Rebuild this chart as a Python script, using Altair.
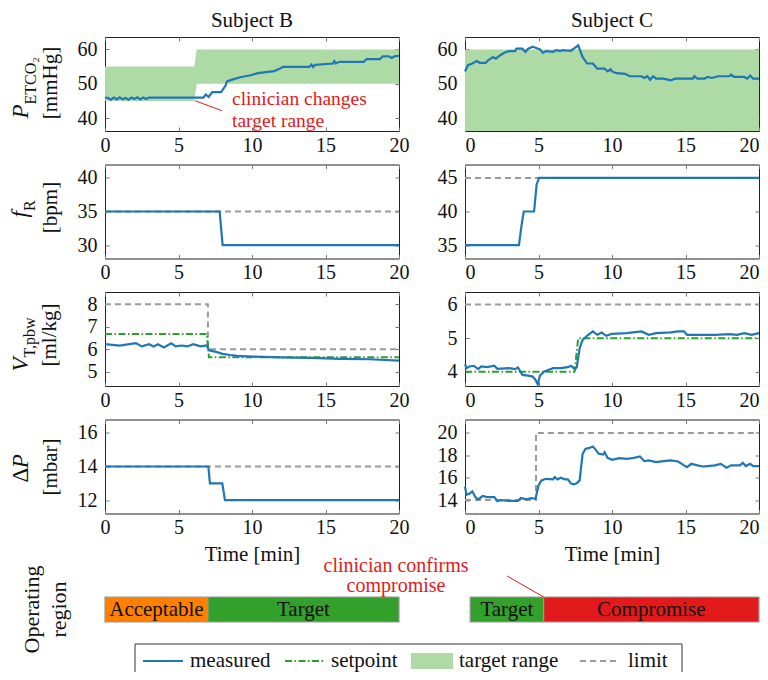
import altair as alt
import pandas as pd

FONT = "Liberation Serif"
TXT = "#111111"
BLUE = "#1f77b4"
GREEN = "#2ca02c"
FILL = "#aedaa6"
GRAY = "#9a9a9a"
RED = "#e31a1c"
TICK = "#777777"
ORANGE = "#ff7f00"
DGREEN = "#33a02c"
CRED = "#e31a1c"

# ---------------- data ----------------
ticks_x = [0, 5, 10, 15, 20]

# Subject B - PETCO2
b_p_t = [0, 0.2, 0.4, 0.6, 0.8, 1.0, 1.2, 1.4, 1.6, 1.8, 2.0, 2.2, 2.4, 2.6, 2.8, 3.0,
         6.7, 6.85, 7.05, 7.3, 7.9, 8.2, 8.3, 8.7, 9.2, 9.9, 10.4, 11.5, 11.8, 12.1, 13.9,
         14.05, 14.15, 14.3, 15.5, 15.6, 15.7, 15.8, 16.0, 17.6, 17.8, 18.7, 18.9, 19.3,
         19.5, 19.7, 20]
b_p_v = [45.9, 45.9, 45.4, 46.0, 45.5, 46.1, 45.5, 45.9, 45.4, 46.0, 45.6, 46.1, 45.5, 46.0, 45.6, 46.0,
         46.0, 46.9, 46.2, 47.6, 47.6, 49.5, 50.7, 51.3, 51.9, 52.5, 53.1, 53.7, 54.2, 54.9, 54.9,
         55.6, 54.9, 55.5, 55.9, 56.6, 55.9, 56.2, 56.4, 56.4, 57.2, 57.2, 58.0, 58.0,
         57.5, 58.0, 58.1]
b_tr_t = [0, 6.07, 6.24, 20]
b_tr_lo = [45, 45, 50, 50]
b_tr_hi = [55, 55, 60, 60]

# Subject C - PETCO2
c_p_t = [0, 0.2, 0.5, 0.8, 1.0, 1.4, 1.6, 1.9, 2.1, 2.4, 2.7, 3.0, 3.4, 3.5, 3.9, 4.1, 4.3, 4.6,
         4.8, 5.1, 5.3, 5.5, 6.0, 6.2, 6.5, 6.6, 7.2, 7.5, 7.7, 8.0, 8.3, 8.7, 9.0, 9.5, 9.7,
         9.9, 10.0, 10.3, 10.9, 11.2, 12.0, 12.2, 12.4, 12.6, 12.8, 13.0, 13.5, 14.0, 14.3,
         15.5, 15.6, 15.8, 16.3, 16.5, 16.8, 17.2, 18.0, 18.1, 18.3, 19.0, 19.2, 19.4, 19.6, 20]
c_p_v = [53.6, 55.4, 55.9, 56.6, 56.1, 56.1, 56.9, 57.8, 57.3, 58.3, 59.1, 59.5, 59.5, 60.2, 60.2,
         59.3, 60.2, 60.8, 60.5, 60.0, 59.0, 59.5, 59.3, 59.8, 59.5, 59.8, 59.6, 60.5, 61.2, 57.8,
         55.9, 55.9, 54.4, 54.4, 53.6, 54.2, 53.6, 53.1, 52.9, 52.2, 52.2, 51.7, 52.2, 51.2, 52.2,
         51.5, 51.5, 51.0, 51.5, 51.5, 52.2, 51.5, 51.5, 52.0, 51.7, 52.2, 52.2, 52.7, 52.0, 52.0,
         51.5, 52.4, 51.5, 51.5]
c_tr_t = [0, 20]
c_tr_lo = [30, 30]
c_tr_hi = [60, 60]

# respiratory rate
b_f_t = [0, 7.8, 8.0, 20]
b_f_v = [35, 35, 30, 30]
b_f_lim_t = [0, 20]
b_f_lim_v = [35, 35]
c_f_t = [0, 3.67, 3.85, 4.0, 4.7, 4.87, 5.03, 20]
c_f_v = [35, 35, 38, 40, 40, 44, 45, 45]
c_f_lim_t = [0, 20]
c_f_lim_v = [45, 45]

# tidal volume
b_v_t = [0, 1, 2.1, 2.5, 3, 3.3, 3.6, 4, 4.5, 4.8, 5.2, 5.6, 6, 6.5, 6.9, 7.1, 7.5, 8, 8.5, 9,
         10, 12, 14, 16, 18, 20]
b_v_v = [6.23, 6.17, 6.28, 6.13, 6.23, 6.13, 6.23, 6.08, 6.27, 6.13, 6.17, 6.13, 6.23, 6.13, 6.17,
         5.95, 5.9, 5.8, 5.75, 5.71, 5.68, 5.64, 5.62, 5.58, 5.56, 5.5]
b_v_lim_t = [0, 7.0, 7.0, 20]
b_v_lim_v = [8, 8, 6, 6]
b_v_sp_t = [0, 6.93, 7.07, 20]
b_v_sp_v = [6.68, 6.68, 5.65, 5.65]

c_v_t = [0, 0.1, 0.3, 0.6, 0.9, 1.1, 1.5, 2.0, 2.2, 3.0, 3.4, 3.6, 3.7, 3.9, 4.3, 4.6, 4.8, 4.95,
         5.1, 5.4, 5.7, 6.0, 6.5, 7.0, 7.2, 7.5, 7.6, 7.8, 8.0, 8.3, 8.7, 9.0, 9.3, 9.6, 10, 11,
         12, 12.5, 13, 14, 14.5, 14.9, 15.1, 16, 17, 18, 18.5, 19, 19.5, 20]
c_v_v = [4.23, 4.11, 4.16, 4.18, 4.08, 4.16, 4.14, 4.18, 4.09, 4.11, 4.08, 4.13, 4.06, 3.91, 3.89,
         3.86, 3.76, 3.63, 3.89, 4.01, 4.06, 4.11, 4.11, 4.14, 4.18, 4.08, 4.14, 4.7, 4.95, 5.07,
         5.2, 5.1, 5.17, 5.07, 5.13, 5.15, 5.2, 5.1, 5.15, 5.17, 5.2, 5.2, 5.1, 5.1, 5.1, 5.12,
         5.1, 5.15, 5.1, 5.15]
c_v_lim_t = [0, 20]
c_v_lim_v = [6, 6]
c_v_sp_t = [0, 7.45, 7.7, 20]
c_v_sp_v = [4.0, 4.0, 5.0, 5.0]

# driving pressure
b_d_t = [0, 7.03, 7.14, 7.98, 8.16, 20]
b_d_v = [14, 14, 13, 13, 12, 12]
b_d_lim_t = [0, 20]
b_d_lim_v = [14, 14]
c_d_t = [0, 0.1, 0.3, 0.5, 0.7, 0.9, 1.2, 1.5, 2.0, 2.2, 2.4, 3.0, 3.6, 3.8, 4.2, 4.5, 4.8, 5.0,
         5.2, 5.5, 6.0, 6.1, 6.3, 6.5, 6.8, 7.0, 7.2, 7.4, 7.6, 7.8, 8.0, 8.2, 8.5, 8.7, 8.9, 9.1,
         9.4, 9.5, 9.7, 10, 10.5, 11, 11.5, 11.9, 12.2, 12.5, 13, 13.5, 14, 14.5, 14.9, 15.1,
         15.4, 15.8, 16.2, 16.5, 17, 17.4, 17.8, 18.1, 18.7, 18.9, 19.1, 19.4, 19.6, 20]
c_d_v = [15.2, 14.48, 14.57, 14.78, 14.27, 14.06, 14.36, 14.27, 14.27, 13.9, 13.99, 13.93, 13.93,
         14.18, 14.06, 14.18, 14.12, 15.3, 15.76, 15.9, 15.85, 16.05, 15.85, 16.0, 15.85, 15.85,
         15.5, 15.4, 15.5, 15.76, 18.13, 18.58, 18.67, 18.78, 18.49, 18.13, 18.07, 18.28, 17.77,
         17.6, 17.75, 17.69, 17.77, 17.9, 17.48, 17.54, 17.39, 17.48, 17.54, 17.45, 17.1, 16.94,
         17.24, 17.1, 17.0, 17.04, 17.1, 17.24, 16.9, 17.1, 17.1, 17.33, 17.04, 17.24, 17.04, 17.03]
c_d_lim_t = [0, 4.83, 4.83, 20]
c_d_lim_v = [14, 14, 20, 20]

# operating regions
op_b_name = ["Acceptable", "Target"]
op_b_start = [0, 7.0]
op_b_end = [7.0, 20]
op_c_name = ["Target", "Compromise"]
op_c_start = [0.35, 5.35]
op_c_end = [5.35, 20]

legend_labels = ["measured", "setpoint", "target range", "limit"]

# ---------------- helpers ----------------
W, H = 294, 94
OPH = 75
XSC = alt.Scale(domain=[0, 20], nice=False, zero=False)


def df(t, v):
    return pd.DataFrame({"t": t, "v": v})


def x_main(title=None, right=False):
    kw = dict(values=ticks_x, orient="bottom", offset=-4, tickSize=4, tickColor=TICK, tickWidth=1,
              domain=False, grid=False, labelFont=FONT, labelFontSize=20, labelColor=TXT,
              labelPadding=4)
    if right:
        kw.update(labelFlush=True, labelFlushOffset=0)
    else:
        kw.update(labelFlush=False)
    if title:
        kw.update(title=title, titleFont=FONT, titleFontSize=21, titleFontWeight="normal",
                  titleColor=TXT, titlePadding=6)
    else:
        kw.update(title=None)
    return alt.Axis(**kw)


def x_top():
    return alt.Axis(values=ticks_x, orient="top", offset=-4, tickSize=4, tickColor=TICK,
                    domain=False, grid=False, labels=False, title=None)


def y_main(vals):
    return alt.Axis(values=vals, orient="left", offset=-4, tickSize=4, tickColor=TICK,
                    domain=False, grid=False, labelFont=FONT, labelFontSize=20, labelColor=TXT,
                    labelPadding=8, title=None)


def y_right(vals):
    return alt.Axis(values=vals, orient="right", offset=-4, tickSize=4, tickColor=TICK,
                    domain=False, grid=False, labels=False, title=None)


def one():
    return pd.DataFrame({"a": [0]})


def label(text, x, y, size=21, italic=False, align="center", baseline="middle", angle=270,
          color=TXT):
    kw = dict(text=text, font=FONT, fontSize=size, align=align, baseline=baseline, color=color)
    if angle:
        kw["angle"] = angle
    if italic:
        kw["fontStyle"] = "italic"
    return alt.Chart(one()).mark_text(**kw).encode(x=alt.value(x), y=alt.value(y))


def panel(meas_t, meas_v, ydom, yticks, limit=None, setpoint=None, target=None,
          title=None, xtitle=None, extra=(), right=False):
    ysc = alt.Scale(domain=ydom, nice=False, zero=False)
    m = df(meas_t, meas_v)
    layers = [alt.Chart(m).mark_line(opacity=0).encode(
        x=alt.X("t:Q", scale=XSC, axis=x_main(xtitle, right)),
        y=alt.Y("v:Q", scale=ysc, axis=y_main(yticks)))]
    if target is not None:
        tdf = pd.DataFrame({"t": target[0], "lo": target[1], "hi": target[2]})
        layers.append(alt.Chart(tdf).mark_area(color=FILL, opacity=1, clip=True).encode(
            x=alt.X("t:Q", scale=XSC, axis=None),
            y=alt.Y("lo:Q", scale=ysc, axis=None), y2="hi:Q"))
    if limit is not None:
        layers.append(alt.Chart(df(*limit)).mark_line(color=GRAY, strokeDash=[6, 4],
                                                       strokeWidth=2).encode(
            x=alt.X("t:Q", scale=XSC, axis=None), y=alt.Y("v:Q", scale=ysc, axis=None)))
    if setpoint is not None:
        layers.append(alt.Chart(df(*setpoint)).mark_line(color=GREEN, strokeDash=[7, 2.5, 1.5, 2.5],
                                                          strokeWidth=2).encode(
            x=alt.X("t:Q", scale=XSC, axis=None), y=alt.Y("v:Q", scale=ysc, axis=None)))
    layers.append(alt.Chart(m).mark_line(color=BLUE, strokeWidth=2.2).encode(
        x=alt.X("t:Q", scale=XSC, axis=x_top()),
        y=alt.Y("v:Q", scale=ysc, axis=y_right(yticks))))
    layers.extend(extra)
    ch = alt.layer(*layers).resolve_axis(x="independent", y="independent").properties(
        width=W, height=H, view=alt.ViewBackground(stroke="#222222", strokeWidth=1))
    if title:
        ch = ch.properties(title=alt.TitleParams(title, font=FONT, fontSize=21,
                                                 fontWeight="normal", color=TXT, offset=6,
                                                 anchor="middle"))
    return ch


# y-axis titles (drawn as text)
t1 = [label("P", -77, 81.5, size=23, italic=True, align="left", baseline="alphabetic"),
      label("ETCO₂", -69, 67.5, size=16, align="left", baseline="alphabetic"),
      label("[mmHg]", -54, 46)]
t2 = [label("f", -78, 53, size=23, italic=True, align="left", baseline="alphabetic"),
      label("R", -70, 46.5, size=16, align="left", baseline="alphabetic"),
      label("[bpm]", -54, 43)]
t3 = [label("V", -77, 79.5, size=23, italic=True, align="left", baseline="alphabetic"),
      label("T,pbw", -70, 65.5, size=16, align="left", baseline="alphabetic"),
      label("[ml/kg]", -55, 43)]
t4 = [label("Δ", -77, 63, size=23, align="left", baseline="alphabetic"),
      label("P", -77, 48.8, size=23, italic=True, align="left", baseline="alphabetic"),
      label("[mbar]", -54, 47.5)]

# annotation on subject B PETCO2
ysc1 = alt.Scale(domain=[36.3, 63.6], nice=False, zero=False)
ann_b = pd.DataFrame({"t": [6.12], "v": [45.1], "t2": [7.96], "v2": [42.2]})
ann_b_line = alt.Chart(ann_b).mark_rule(color=RED, strokeWidth=1).encode(
    x=alt.X("t:Q", scale=XSC, axis=None), y=alt.Y("v:Q", scale=ysc1, axis=None),
    x2="t2:Q", y2="v2:Q")
ann_b_txt = alt.Chart(pd.DataFrame({"t": [8.64, 8.64], "v": [43.9, 37.5],
                                    "s": ["clinician changes", "target range"]})).mark_text(
    font=FONT, fontSize=19.5, color=RED, align="left", baseline="alphabetic").encode(
    x=alt.X("t:Q", scale=XSC, axis=None), y=alt.Y("v:Q", scale=ysc1, axis=None), text="s:N")

pB1 = panel(b_p_t, b_p_v, [36.3, 63.6], [40, 50, 60], target=(b_tr_t, b_tr_lo, b_tr_hi),
            title="Subject B", extra=t1 + [ann_b_line, ann_b_txt])
pC1 = panel(c_p_t, c_p_v, [36.3, 63.6], [40, 50, 60], target=(c_tr_t, c_tr_lo, c_tr_hi),
            title="Subject C", right=True)
pB2 = panel(b_f_t, b_f_v, [28, 42], [30, 35, 40], limit=(b_f_lim_t, b_f_lim_v), extra=t2)
pC2 = panel(c_f_t, c_f_v, [33, 47], [35, 40, 45], limit=(c_f_lim_t, c_f_lim_v), right=True)
pB3 = panel(b_v_t, b_v_v, [4.37, 8.55], [5, 6, 7, 8], limit=(b_v_lim_t, b_v_lim_v),
            setpoint=(b_v_sp_t, b_v_sp_v), extra=t3)
pC3 = panel(c_v_t, c_v_v, [3.58, 6.37], [4, 5, 6], limit=(c_v_lim_t, c_v_lim_v),
            setpoint=(c_v_sp_t, c_v_sp_v), right=True)
pB4 = panel(b_d_t, b_d_v, [11.2, 16.8], [12, 14, 16], limit=(b_d_lim_t, b_d_lim_v),
            xtitle="Time [min]", extra=t4)
pC4 = panel(c_d_t, c_d_v, [12.8, 21.2], [14, 16, 18, 20], limit=(c_d_lim_t, c_d_lim_v),
            xtitle="Time [min]", right=True)

# ---------------- operating region ----------------
REG = alt.Scale(domain=["Acceptable", "Target", "Compromise"], range=[ORANGE, DGREEN, CRED])


def op_layers(names, starts, ends):
    d = pd.DataFrame({"name": names, "s": starts, "e": ends})
    bars = alt.Chart(d).mark_rect(stroke="#999999", strokeWidth=1.2).encode(
        x=alt.X("s:Q", scale=XSC, axis=None), x2="e:Q",
        y=alt.value(OPH - 25), y2=alt.value(OPH),
        color=alt.Color("name:N", scale=REG, legend=None))
    txt = alt.Chart(d).transform_calculate(m="(datum.s + datum.e) / 2").mark_text(
        font=FONT, fontSize=21, color=TXT, baseline="middle", align="center").encode(
        x=alt.X("m:Q", scale=XSC, axis=None), y=alt.value(OPH - 12.5), text="name:N")
    return [bars, txt]


# legend drawn in the left operating-region cell (its lower edge is cut by the page)
LY = 97      # top of legend box, relative to the cell
LC = 114     # legend row centre
leg = [
    alt.Chart(one()).mark_rect(fill="white", stroke="#333333", strokeWidth=1).encode(
        x=alt.value(30), x2=alt.value(577), y=alt.value(LY), y2=alt.value(LY + 40)),
    alt.Chart(one()).mark_rule(color=BLUE, strokeWidth=2.2).encode(
        x=alt.value(38), x2=alt.value(78), y=alt.value(LC)),
    alt.Chart(one()).mark_rule(color=GREEN, strokeWidth=2, strokeDash=[7, 2.5, 1.5, 2.5]).encode(
        x=alt.value(180), x2=alt.value(220), y=alt.value(LC)),
    alt.Chart(one()).mark_rect(color=FILL).encode(
        x=alt.value(306), x2=alt.value(348), y=alt.value(LC - 8), y2=alt.value(LC + 8)),
    alt.Chart(one()).mark_rule(color=GRAY, strokeWidth=2, strokeDash=[6, 4]).encode(
        x=alt.value(475), x2=alt.value(513), y=alt.value(LC)),
]
for lbl, lx in zip(legend_labels, [85, 226, 354, 523]):
    leg.append(label(lbl, lx, LC, size=21, align="left", angle=0))

op_title = [label("Operating", -73, OPH - 12.5, size=22),
            label("region", -46, OPH - 12.5, size=22)]

opB = alt.layer(*(op_layers(op_b_name, op_b_start, op_b_end) + op_title + leg)).properties(
    width=W, height=OPH, view=alt.ViewBackground(strokeOpacity=0))

ann_c_line = alt.Chart(pd.DataFrame({"t": [2.86], "t2": [5.35]})).mark_rule(
    color=RED, strokeWidth=1).encode(x=alt.X("t:Q", scale=XSC, axis=None), x2="t2:Q",
                                     y=alt.value(29), y2=alt.value(OPH - 25))
ann_c_txt = [label("clinician confirms", -69, 24.5, size=20, angle=0, baseline="alphabetic",
                   color=RED),
             label("compromise", -69, 44.5, size=20, angle=0, baseline="alphabetic", color=RED)]

opC = alt.layer(*(op_layers(op_c_name, op_c_start, op_c_end) + [ann_c_line] + ann_c_txt)).properties(
    width=W, height=OPH, view=alt.ViewBackground(strokeOpacity=0))

# fixed canvas: plot grid origin at page (105, 37); svg 752 x 664
chart = alt.concat(pB1, pC1, pB2, pC2, pB3, pC3, pB4, pC4, opB, opC, columns=2,
                   spacing={"row": 33.5, "column": 66}, bounds="flush").properties(
    autosize=alt.AutoSizeParams(type="none"),
    padding={"left": 97, "top": 29, "right": 655, "bottom": 635},
    background="white").configure_view(stroke=None)

chart.save("out.html", embed_options={"renderer": "svg", "actions": False})
